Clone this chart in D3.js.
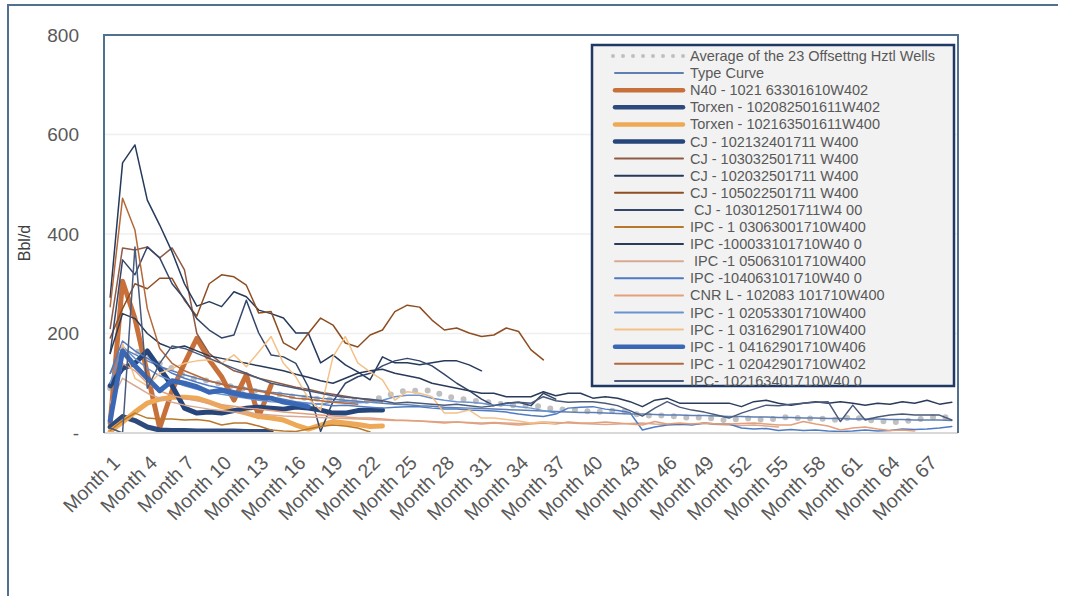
<!DOCTYPE html>
<html><head><meta charset="utf-8">
<script src="https://cdn.jsdelivr.net/npm/d3@7"></script>
<style>
body{margin:0;background:#fff;}
svg{display:block;font-family:"Liberation Sans",Arial,sans-serif;}
</style>
</head><body>
<svg id="c" width="1069" height="596"></svg>
<script>
// ---------- DATA ----------
const months = ["Month 1","Month 2","Month 3","Month 4","Month 5","Month 6","Month 7","Month 8","Month 9","Month 10",
"Month 11","Month 12","Month 13","Month 14","Month 15","Month 16","Month 17","Month 18","Month 19","Month 20",
"Month 21","Month 22","Month 23","Month 24","Month 25","Month 26","Month 27","Month 28","Month 29","Month 30",
"Month 31","Month 32","Month 33","Month 34","Month 35","Month 36","Month 37","Month 38","Month 39","Month 40",
"Month 41","Month 42","Month 43","Month 44","Month 45","Month 46","Month 47","Month 48","Month 49","Month 50",
"Month 51","Month 52","Month 53","Month 54","Month 55","Month 56","Month 57","Month 58","Month 59","Month 60",
"Month 61","Month 62","Month 63","Month 64","Month 65","Month 66","Month 67","Month 68","Month 69"];
const xTickLabels = ["Month 1","Month 4","Month 7","Month 10","Month 13","Month 16","Month 19","Month 22","Month 25",
"Month 28","Month 31","Month 34","Month 37","Month 40","Month 43","Month 46","Month 49","Month 52","Month 55",
"Month 58","Month 61","Month 64","Month 67"];
const yTickValues = [0,200,400,600,800];

const avgWells = [90,150,165,158,140,130,115,107,105,98,
 92,88,83,80,76,72,70,68,67,66,
 65,64,72,80,86,84,86,74,70,66,
 63,61,56,56,55,53,46,48,46,42,
 43,46,42,34,36,34,33,30,32,28,
 25,30,28,26,30,33,28,30,28,26,
 34,25,26,21,23,26,30,33,30];
const typeCurve = [120,170,158,145,134,125,117,110,104,99,
 94,90,86,82,79,76,73,70,68,66,
 64,62,60,58,57,55,54,52,51,50,
 49,48,47,46,45,44,43,42,41,41,
 40,39,38,38,37,36,36,35,35,34,
 33,33,32,32,31,31,30,30,29,29,
 28,28,28,27,27,26,26,26,25];
const n40_102163301610 = [20,305,230,120,10,85,140,190,147,113,66,117,33,96];
const torxen_102082501611 = [12,33,25,12,6,5,5,4,4,4,4,3,3,3];
const torxen_102163501611 = [3,22,42,60,68,72,72,70,62,53,46,40,33,30,26,16,8,16,23,20,17,13,14];
const cj_102132401711 = [95,130,140,165,130,95,50,40,42,40,45,50,52,50,48,52,50,46,40,40,45,46,46];
const cj_103032501711 = [210,372,368,374,352,372,328,200,160,140,125,118,110,104,98,92,88,82,78,74,70,66,63];
const cj_102032501711 = [273,543,579,468,418,364,300,255,264,254,284,274,247,240,231,201,201,141,157,137,123,107,153,141,141,137,141,145,145,137,125];
const cj_105022501711 = [191,250,300,290,311,311,267,235,300,318,314,297,241,244,181,167,200,231,217,181,173,197,207,244,257,253,227,207,211,201,194,197,211,204,167,147];
const cj_103012501711 = [160,348,318,374,352,300,270,230,207,191,197,267,201,157,153,140,93,3,63,100,113,120,135,145,150,145,135,118,100,85,68,55,60,62,55,80,68];
const ipc_103063001710 = [5,25,40,30,28,28,26,27,24,16,20,20,14,6,4,3,8,13,16,14,10,2];
const ipc_100033101710 = [160,240,230,200,180,170,175,165,155,150,
 145,140,135,130,125,118,112,105,100,110,
 120,125,128,120,115,110,100,95,90,85,
 80,80,73,73,73,83,75,80,80,70,
 73,70,63,53,66,70,60,60,60,60,
 60,53,63,66,60,56,60,63,60,63,
 60,56,60,58,63,60,66,58,62];
const ipc_105063101710 = [60,110,95,80,70,62,56,52,48,45,
 42,40,38,36,34,33,32,31,30,29,
 28,27,26,25,25,24,23,22,22,21,
 20,21,20,19,20,22,21,20,19,18,
 17,18,19,20,18,17,16,18,19,17,
 16,15,16,14,12];
const ipc_104063101710 = [120,185,165,150,135,120,110,102,95,90,
 85,80,76,72,68,63,60,58,55,56,
 54,52,50,52,53,53,50,48,48,46,
 45,44,42,38,35,33,38,50,52,53,
 48,45,41,6,12,16,18,16,20,18,
 18,10,8,9,5,7,5,6,4,3,
 4,6,4,5,8,7,8,10,13];
const cnrl_102083101710 = [40,140,125,100,85,75,70,65,60,57,
 54,50,48,45,42,40,38,36,34,32,
 30,30,28,26,25,24,22,20,22,20,
 18,20,18,16,18,20,18,22,20,20,
 22,20,18,16,23,18,20,18,20,18,
 18,19,20,18,16,16,23,18,14,6,
 10,12,8,5,6,4];
const ipc_102053301710 = [100,175,150,130,115,105,95,88,82,78,
 74,70,66,63,62,60,60,58,63,63,
 61,62,66,73,76,76,70,66,63,62,
 60,56,56,53,50,45,40];
const ipc_103162901710 = [30,180,110,95,120,130,140,145,147,140,
 157,133,163,194,140,113,70,46,153,194,
 141,123,107,66,83,80,73,40,40,46,
 30,30,27,24,20,22,18];
const ipc_104162901710 = [25,165,135,110,85,105,100,93,82,86,80,75,72,70,62,58,53];
const ipc_102042901710 = [254,472,408,250,170,140,125,115,105,98,92,88,84,80,75,70,68,65,62,60,58];
const ipc_102163401710 = [10,0,374,90,140,175,170,160,150,140,
 130,120,110,100,95,90,85,80,75,72,
 70,68,65,60,62,60,58,56,58,55,
 52,55,60,62,60,73,65,62,63,63,
 60,55,45,34,50,63,52,46,42,36,
 30,40,48,56,55,58,60,62,63,23,
 56,26,32,36,38,36,36,36,26];

const seriesNames = [
 "Average of the 23 Offsettng Hztl Wells","Type Curve","N40 - 1021 63301610W402","Torxen - 102082501611W402",
 "Torxen - 102163501611W400","CJ - 102132401711 W400","CJ - 103032501711 W400","CJ - 102032501711 W400",
 "CJ - 105022501711 W400"," CJ - 103012501711W4 00","IPC - 1 03063001710W400","IPC -100033101710W40 0",
 " IPC -1 05063101710W400","IPC -104063101710W40 0","CNR L - 102083 101710W400","IPC - 1 02053301710W400",
 "IPC - 1 03162901710W400","IPC - 1 04162901710W406","IPC - 1 02042901710W402","IPC- 102163401710W40 0"];
const seriesData = [avgWells,typeCurve,n40_102163301610,torxen_102082501611,torxen_102163501611,cj_102132401711,
 cj_103032501711,cj_102032501711,cj_105022501711,cj_103012501711,ipc_103063001710,ipc_100033101710,
 ipc_105063101710,ipc_104063101710,cnrl_102083101710,ipc_102053301710,ipc_103162901710,ipc_104162901710,
 ipc_102042901710,ipc_102163401710];

// ---------- STYLE ----------
const colors = ["#c0c0c0","#5f7fb3","#c8703a","#2c4a7c","#eea957","#26457a","#8f5a45","#263a5c","#8e4e22","#34476a",
 "#b8782a","#2a3b5a","#d8aa94","#4f7bc2","#e3a07a","#6a93d0","#f4c187","#3a68b4","#b5683a","#4a5a7a"];
const widths = [6,1.5,5,5,5,5,1.5,1.5,1.5,1.5,1.5,1.5,1.5,1.5,1.5,1.5,1.5,5,1.5,1.5];

const svg = d3.select("#c");
const L=104, R=958, T=35, B=433;

const x = d3.scaleBand().domain(months).range([L,R]);
const y = d3.scaleLinear().domain([0,800]).range([B,T]);
const cx = m => x(m) + x.bandwidth()/2;

// outer frame
svg.append("path").attr("d",`M8,596 L8,5 L1058,5`).attr("fill","none").attr("stroke","#52708f").attr("stroke-width",2);

// gridlines
svg.append("g").selectAll("line").data([200,400,600]).join("line")
 .attr("x1",L).attr("x2",R).attr("y1",d=>y(d)).attr("y2",d=>y(d))
 .attr("stroke","#efefef").attr("stroke-width",1.5);

// y axis
const yAxis = svg.append("g").attr("transform",`translate(${L-25},0)`)
 .call(d3.axisLeft(y).tickValues(yTickValues).tickSize(0).tickPadding(0).tickFormat(d=>d===0?"-":d));
yAxis.select(".domain").remove();
yAxis.selectAll("text").attr("font-size",19).attr("fill","#595959").attr("font-family","Liberation Sans, Arial, sans-serif");

// y title
svg.append("text").attr("transform","translate(30,243) rotate(-90)").attr("text-anchor","middle")
 .attr("font-size",16).attr("fill","#404040").text("Bbl/d");

// x axis
const xAxis = svg.append("g").attr("transform",`translate(0,${B})`)
 .call(d3.axisBottom(x).tickValues(xTickLabels).tickSize(0).tickPadding(0));
xAxis.select(".domain").remove();
xAxis.selectAll("text").attr("font-size",19.5).attr("fill","#595959").attr("font-family","Liberation Sans, Arial, sans-serif")
 .attr("text-anchor","end").attr("dy",null).attr("y",null)
 .attr("transform","translate(11,31) rotate(-45)");

// series lines
const line = d3.line().x((d,i)=>cx(months[i])).y(d=>y(d));
const lines = svg.append("g");
seriesData.forEach((data,i)=>{
  const p = lines.append("path").datum(data).attr("d",line).attr("fill","none")
   .attr("stroke",colors[i]).attr("stroke-width",widths[i])
   .attr("stroke-linejoin","round").attr("stroke-linecap","round");
  if(i===0){ p.attr("stroke-dasharray","0 12.5"); }
});

// plot frame + x axis line
svg.append("line").attr("x1",L).attr("x2",R).attr("y1",B).attr("y2",B).attr("stroke","#d9d9d9").attr("stroke-width",2);
svg.append("path").attr("d",`M${L},${B} L${L},${T} L${R},${T} L${R},${B}`).attr("fill","none")
 .attr("stroke","#52708f").attr("stroke-width",2);

// legend
const lg = svg.append("g");
lg.append("rect").attr("x",592).attr("y",45).attr("width",362).attr("height",341)
 .attr("fill","#f2f2f2").attr("stroke","#1f3864").attr("stroke-width",2.5);
seriesNames.forEach((name,i)=>{
  const yy = 56 + i*17.1;
  const l = lg.append("line").attr("x1",615).attr("x2",683).attr("y1",yy).attr("y2",yy)
   .attr("stroke",colors[i]).attr("stroke-width",widths[i]===5?4.5:2).attr("stroke-linecap","round");
  if(i===0){ l.attr("stroke-width",4).attr("stroke-dasharray","0 10").attr("x1",613).attr("x2",685); }
  lg.append("text").attr("x",690).attr("y",yy).attr("dy","0.35em").attr("font-size",14.5)
   .attr("fill","#595959").style("white-space","pre").text(name);
});
</script>
</body></html>
